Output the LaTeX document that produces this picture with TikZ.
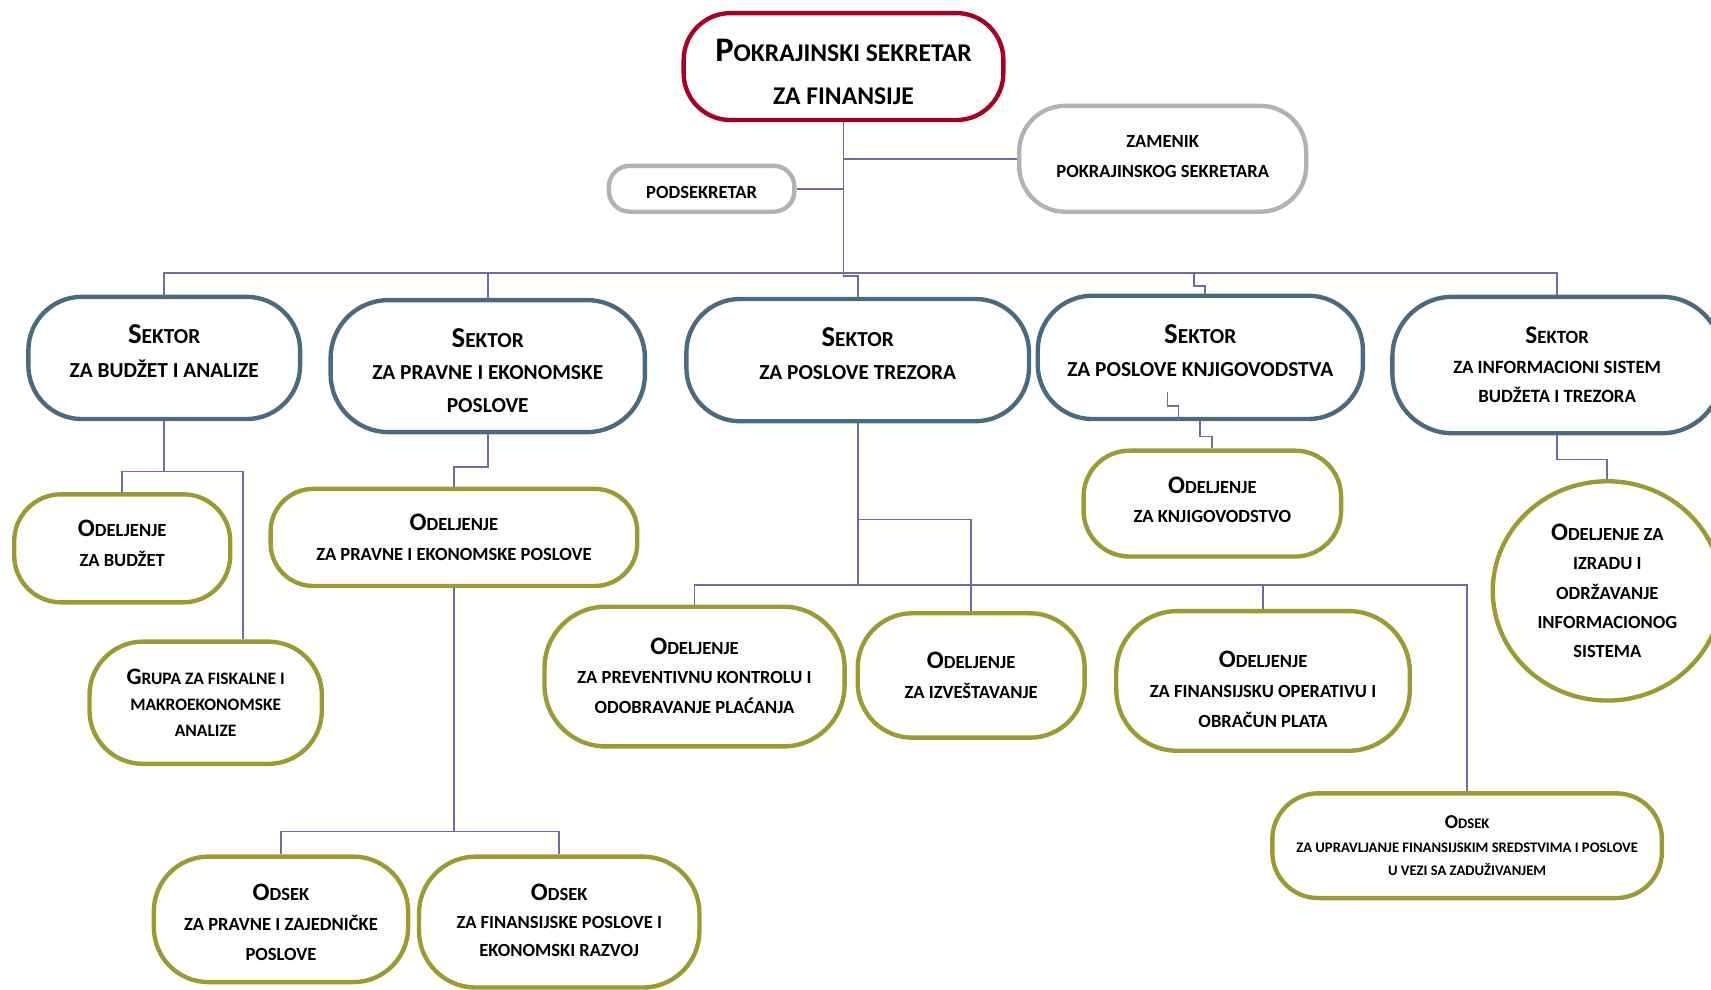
\documentclass[tikz,border=0pt]{standalone}
\usepackage{fontspec}
\setmainfont{Carlito}
\usetikzlibrary{shapes.geometric}
\definecolor{redc}{RGB}{166,0,36}
\definecolor{grayc}{RGB}{178,178,178}
\definecolor{secc}{RGB}{74,106,128}
\definecolor{olc}{RGB}{155,155,50}
\definecolor{linec}{RGB}{110,108,168}
\newcommand\BG[1]{{\fontsize{\bigsz}{\bigsz}\selectfont #1}}
\tikzset{
  fs/.style n args={3}{font=\fontsize{#1}{#2}\selectfont\bfseries\def\bigsz{#3}, align=center, inner sep=0pt},
  box/.style={draw, line width=2pt, fill=white, inner sep=0pt},
  topbox/.style={box, draw=redc},
  graybox/.style={box, draw=grayc},
  secbox/.style={box, draw=secc},
  olbox/.style={box, draw=olc},
  conn/.style={draw=linec, line width=0.8pt},
}
\begin{document}
\begin{tikzpicture}[x=0.5pt, y=-0.5pt]
\useasboundingbox (0,0) rectangle (1568,907);

% top level
\node[topbox, minimum width=146.5pt, minimum height=49pt, rounded corners=21.5pt,
  label={[name=topt, fs={11.7}{19.5}{15.8}, yshift=-2.5pt]center:{\BG{P}OKRAJINSKI SEKRETAR\\ZA FINANSIJE}}] (top) at (773,61) {};
\node[graybox, minimum width=131.5pt, minimum height=48.5pt, rounded corners=21pt,
  label={[name=zamt, fs={8.5}{13.5}{11.5}, yshift=1pt]center:{ZAMENIK\\POKRAJINSKOG SEKRETARA}}] (zam) at (1065.5,145.5) {};
\node[graybox, minimum width=85pt, minimum height=21pt, rounded corners=9.5pt,
  label={[name=podt, fs={8.5}{13.5}{11.5}, yshift=-1.5pt]center:{PODSEKRETAR}}] (pod) at (643,173) {};

% sectors
\node[secbox, minimum width=124.5pt, minimum height=56pt, rounded corners=24.5pt,
  label={[name=S1t, fs={9.8}{15.5}{13.2}, yshift=3.25pt]center:{\BG{S}EKTOR\\ZA BUDŽET I ANALIZE}}] (S1) at (150.5,328) {};
\node[secbox, minimum width=144pt, minimum height=60.5pt, rounded corners=26.5pt,
  label={[name=S2t, fs={9.8}{14.75}{13.2}, yshift=-2pt]center:{\BG{S}EKTOR\\ZA PRAVNE I EKONOMSKE\\POSLOVE}}] (S2) at (447,335.5) {};
\node[secbox, minimum width=157pt, minimum height=56pt, rounded corners=24.5pt,
  label={[name=S3t, fs={9.8}{15}{13.2}, yshift=3pt]center:{\BG{S}EKTOR\\ZA POSLOVE TREZORA}}] (S3) at (786,330) {};
\node[secbox, minimum width=149pt, minimum height=56.5pt, rounded corners=25pt,
  label={[name=S4t, fs={9.8}{15}{13.2}, yshift=3.25pt]center:{\BG{S}EKTOR\\ZA POSLOVE KNJIGOVODSTVA}}] (S4) at (1100,327.5) {};
\node[secbox, minimum width=151pt, minimum height=62.5pt, rounded corners=27.5pt,
  label={[name=S5t, fs={8.6}{13.5}{11.6}]center:{\BG{S}EKTOR\\ZA INFORMACIONI SISTEM\\BUDŽETA I TREZORA}}] (S5) at (1427,334.5) {};

% departments
\node[olbox, minimum width=99pt, minimum height=49.5pt, rounded corners=21.5pt,
  label={[name=O1t, fs={8.5}{13.5}{11.5}, yshift=2.25pt]center:{\BG{O}DELJENJE\\ZA BUDŽET}}] (O1) at (112,502.5) {};
\node[olbox, minimum width=106.5pt, minimum height=56pt, rounded corners=24.5pt,
  label={[name=Gt, fs={8}{12}{10.8}]center:{\BG{G}RUPA ZA FISKALNE I\\MAKROEKONOMSKE\\ANALIZE}}] (G) at (188.5,644) {};
\node[olbox, minimum width=168pt, minimum height=44.5pt, rounded corners=19.5pt,
  label={[name=O2t, fs={8.5}{14}{11.5}]center:{\BG{O}DELJENJE\\ZA PRAVNE I EKONOMSKE POSLOVE}}] (O2) at (416,492.5) {};
\node[olbox, minimum width=116.5pt, minimum height=57.5pt, rounded corners=25pt,
  label={[name=D1t, fs={8.5}{13.75}{11.5}, yshift=-1.25pt]center:{\BG{O}DSEK\\ZA PRAVNE I ZAJEDNIČKE\\POSLOVE}}] (D1) at (257.5,842.5) {};
\node[olbox, minimum width=128.5pt, minimum height=60pt, rounded corners=26pt,
  label={[name=D2t, fs={8.5}{12.75}{11.5}, yshift=0.75pt]center:{\BG{O}DSEK\\ZA FINANSIJSKE POSLOVE I\\EKONOMSKI RAZVOJ}}] (D2) at (512.5,845) {};
\node[olbox, minimum width=137.5pt, minimum height=64pt, rounded corners=28pt,
  label={[name=O3t, fs={8.5}{13.5}{11.5}, yshift=0.5pt]center:{\BG{O}DELJENJE\\ZA PREVENTIVNU KONTROLU I\\ODOBRAVANJE PLAĆANJA}}] (O3) at (636.5,620) {};
\node[olbox, minimum width=104pt, minimum height=57pt, rounded corners=25pt,
  label={[name=O4t, fs={8.5}{13.5}{11.5}]center:{\BG{O}DELJENJE\\ZA IZVEŠTAVANJE}}] (O4) at (890,619) {};
\node[olbox, minimum width=134.5pt, minimum height=64pt, rounded corners=28pt,
  label={[name=O5t, fs={8.5}{13.75}{11.5}, yshift=-3.75pt]center:{\BG{O}DELJENJE\\ZA FINANSIJSKU OPERATIVU I\\OBRAČUN PLATA}}] (O5) at (1157.5,624) {};
\node[olbox, minimum width=178.5pt, minimum height=48pt, rounded corners=21pt,
  label={[name=D3t, fs={6.7}{10.75}{9}]center:{\BG{O}DSEK\\ZA UPRAVLJANJE FINANSIJSKIM SREDSTVIMA I POSLOVE\\U VEZI SA ZADUŽIVANJEM}}] (D3) at (1344.5,775) {};
\node[olbox, minimum width=118pt, minimum height=48.5pt, rounded corners=21pt,
  label={[name=O6t, fs={8.5}{13.5}{11.5}, yshift=1.75pt]center:{\BG{O}DELJENJE\\ZA KNJIGOVODSTVO}}] (O6) at (1111,461.5) {};
\node[olbox, ellipse, minimum width=105pt, minimum height=100.5pt,
  label={[name=O7t, fs={8.5}{13.5}{11.5}]center:{\BG{O}DELJENJE ZA\\IZRADU I\\ODRŽAVANJE\\INFORMACIONOG\\SISTEMA}}] (O7) at (1473,541.5) {};

% connectors: top level
\coordinate (bus) at (773,250);
\coordinate (j4) at (1094,250);
\draw[conn] (top.south) -- (bus);
\draw[conn] (top.south |- zam.west) -- (zam.west);
\draw[conn] (pod.east) -- (top.south |- pod.east);
\draw[conn] (S1.north) |- (bus) -| (S5.north);
\draw[conn] (S2.north) -- (S2.north |- bus);
\draw[conn] (bus) -- ++(0,3) -| (S3.north);
\draw[conn] (j4) -- ++(0,12) -| ([xshift=2pt]S4.north);

% sector 1
\draw[conn] (S1.south) -- ++(0,46) coordinate (b1);
\draw[conn] (b1) -| (O1.north);
\draw[conn] (b1) -| ([xshift=17.25pt]G.north);

% sector 2
\draw[conn] (S2.south) -- ++(0,30) -| (O2.north);
\draw[conn] (O2.south) -- ++(0,223) coordinate (b2);
\draw[conn] (b2) -| (D1.north);
\draw[conn] (b2) -| (D2.north);

% sector 3
\path (S3.south) ++(0,88) coordinate (b3i) ++(0,60) coordinate (b3);
\draw[conn] (S3.south) -- (b3);
\draw[conn] (b3i) -| (O4.north);
\draw[conn] (O3.north) |- (b3);
\draw[conn] (b3) -| (D3.north);
\draw[conn] (O5.north) -- (O5.north |- b3);

% sector 4
\draw[conn] (S4.south) ++(-30,-27) -- ++(0,13) -| ([xshift=-10pt]S4.south);
\draw[conn] (S4.south) -- ++(0,14) -| (O6.north);

% sector 5
\draw[conn] (S5.south) -- ++(0,22) -| (O7.north);
\end{tikzpicture}
\end{document}
